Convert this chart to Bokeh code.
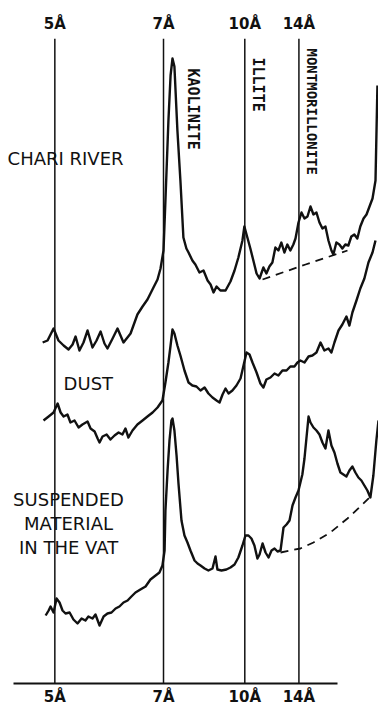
import math
from bokeh.plotting import figure
from bokeh.models import Range1d, LinearAxis, FixedTicker, Span
from bokeh.core.properties import value
from bokeh.embed import file_html
from bokeh.resources import INLINE

# ---- d-spacing reference lines (2-theta, Cu K-alpha) ----
line_pos = [17.72, 12.64, 8.84, 6.31]
line_labels = ["5Å", "7Å", "10Å", "14Å"]

# ---- CHARI RIVER trace (2-theta, intensity a.u.) ----
chari_x = [18.29, 18.06, 17.78, 17.55, 17.31, 17.08, 16.89, 16.75, 16.57, 16.38,
           16.19, 15.96, 15.77, 15.58, 15.40, 15.26, 15.02, 14.79, 14.51, 14.18,
           13.86, 13.62, 13.39, 13.11, 12.92, 12.78, 12.64, 12.55, 12.41, 12.31,
           12.22, 12.13, 11.99, 11.85, 11.71, 11.57, 11.47, 11.29, 11.15, 10.96,
           10.77, 10.58, 10.44, 10.30, 10.16, 9.98, 9.74, 9.51, 9.32, 9.14,
           8.95, 8.86, 8.72, 8.58, 8.44, 8.29, 8.15, 7.97, 7.83, 7.69,
           7.55, 7.41, 7.27, 7.13, 6.99, 6.85, 6.71, 6.57, 6.47, 6.33,
           6.19, 6.05, 5.91, 5.77, 5.63, 5.49, 5.35, 5.21, 5.07, 4.93,
           4.79, 4.70, 4.56, 4.42, 4.28, 4.14, 4.00, 3.86, 3.72, 3.58,
           3.44, 3.29, 3.15, 3.01, 2.87, 2.73, 2.64]
chari_y = [341, 343, 355, 343, 338, 334, 339, 347, 333, 341,
           353, 336, 343, 352, 340, 335, 345, 355, 341, 350,
           369, 377, 384, 396, 404, 415, 433, 483, 563, 608,
           625, 617, 553, 503, 446, 435, 431, 423, 419, 411,
           413, 403, 399, 391, 397, 393, 393, 402, 413, 426,
           443, 457, 446, 435, 423, 410, 405, 416, 410, 417,
           421, 436, 433, 441, 431, 439, 433, 439, 445, 461,
           471, 465, 467, 477, 469, 471, 461, 455, 457, 443,
           433, 429, 441, 439, 435, 439, 438, 447, 449, 445,
           457, 465, 469, 477, 485, 503, 598]
chari_base_x = [8.01, 6.00, 4.04]
chari_base_y = [404, 419, 433]

# ---- DUST trace ----
dust_x = [18.25, 18.01, 17.78, 17.59, 17.45, 17.31, 17.13, 16.99, 16.80, 16.61,
          16.43, 16.19, 16.05, 15.86, 15.72, 15.63, 15.49, 15.30, 15.12, 14.93,
          14.74, 14.56, 14.42, 14.28, 14.09, 13.86, 13.62, 13.39, 13.15, 12.92,
          12.69, 12.55, 12.41, 12.31, 12.22, 12.13, 11.99, 11.85, 11.66, 11.47,
          11.29, 11.10, 10.91, 10.72, 10.54, 10.35, 10.16, 10.02, 9.88, 9.74,
          9.60, 9.42, 9.23, 9.04, 8.90, 8.76, 8.62, 8.48, 8.29, 8.11,
          7.97, 7.83, 7.64, 7.45, 7.27, 7.08, 6.89, 6.71, 6.52, 6.38,
          6.24, 6.05, 5.86, 5.68, 5.49, 5.30, 5.12, 4.93, 4.79, 4.65,
          4.46, 4.28, 4.09, 3.95, 3.81, 3.62, 3.44, 3.25, 3.06, 2.87, 2.73]
dust_y = [263, 267, 271, 280, 271, 267, 269, 261, 263, 256,
          259, 262, 255, 252, 245, 241, 247, 249, 244, 248,
          251, 249, 255, 246, 253, 259, 263, 267, 271, 276,
          283, 301, 321, 338, 354, 350, 338, 328, 313, 301,
          298, 297, 293, 296, 290, 286, 283, 281, 289, 295,
          290, 293, 298, 305, 318, 331, 329, 321, 311, 300,
          296, 304, 306, 310, 308, 313, 313, 317, 317, 321,
          323, 321, 327, 328, 331, 341, 333, 335, 331, 341,
          353, 359, 367, 358, 371, 383, 395, 405, 421, 431, 443]

# ---- SUSPENDED MATERIAL IN THE VAT trace ----
vat_x = [18.15, 18.01, 17.92, 17.78, 17.64, 17.50, 17.36, 17.22, 17.03, 16.85,
         16.66, 16.47, 16.29, 16.15, 15.96, 15.82, 15.63, 15.44, 15.26, 15.07,
         14.88, 14.70, 14.51, 14.32, 14.14, 13.95, 13.72, 13.48, 13.25, 13.01,
         12.83, 12.69, 12.59, 12.55, 12.45, 12.36, 12.27, 12.22, 12.13, 12.03,
         11.94, 11.80, 11.66, 11.52, 11.38, 11.19, 11.05, 10.91, 10.72, 10.54,
         10.35, 10.21, 10.12, 9.93, 9.70, 9.51, 9.32, 9.14, 8.95, 8.81,
         8.67, 8.53, 8.39, 8.25, 8.15, 8.01, 7.87, 7.73, 7.59, 7.45,
         7.31, 7.17, 7.03, 6.89, 6.75, 6.61, 6.47, 6.33, 6.24, 6.15,
         6.05, 5.96, 5.86, 5.77, 5.63, 5.49, 5.35, 5.21, 5.07, 4.93,
         4.79, 4.65, 4.51, 4.37, 4.23, 4.09, 3.95, 3.81, 3.67, 3.53,
         3.39, 3.25, 3.11, 2.97, 2.83, 2.69, 2.59]
vat_y = [68, 73, 77, 71, 85, 81, 73, 70, 71, 64,
         60, 65, 63, 67, 65, 69, 58, 67, 70, 71,
         75, 77, 81, 83, 87, 91, 94, 97, 104, 108,
         111, 118, 133, 173, 213, 243, 263, 265, 253, 228,
         200, 163, 148, 141, 133, 123, 120, 118, 115, 113,
         115, 127, 114, 113, 114, 116, 119, 126, 138, 148,
         148, 145, 138, 125, 129, 140, 131, 126, 133, 135,
         132, 133, 156, 159, 163, 178, 186, 193, 201, 209,
         225, 245, 267, 261, 256, 253, 249, 241, 235, 253,
         238, 231, 220, 211, 209, 207, 213, 217, 211, 206,
         203, 198, 193, 186, 208, 243, 263]
vat_base_x = [7.17, 6.24, 5.63, 4.84, 4.04, 3.44, 3.01]
vat_base_y = [131, 135, 141, 151, 165, 177, 186]

# ---- labels ----
sample_names = ["CHARI RIVER", "DUST"]
sample_x = [19.93, 17.31]
sample_y = [525, 300]
vat_lines = ["SUSPENDED", "MATERIAL", "IN THE VAT"]
vat_lab_x = [17.08, 17.08, 17.08]
vat_lab_y = [184, 160, 136]
mineral_names = ["KAOLINITE", "ILLITE", "MONTMORILLONITE"]
mineral_x = [11.24, 8.20, 5.68]
mineral_y = [615, 626, 635]
mineral_size = ["15px", "15px", "14px"]

INK = "#111111"

p = figure(width=378, height=710,
           x_range=Range1d(20.26, 2.59), y_range=Range1d(0, 645),
           x_axis_type=None, y_axis_type=None,
           output_backend="svg", toolbar_location=None,
           min_border=0, min_border_top=38, min_border_bottom=27)
p.outline_line_color = None
p.xgrid.visible = False
p.ygrid.visible = False
p.background_fill_color = "white"
p.border_fill_color = "white"

ticker = FixedTicker(ticks=line_pos, minor_ticks=[])
overrides = {t: lab for t, lab in zip(line_pos, line_labels)}

top_axis = LinearAxis(ticker=ticker, major_label_overrides=overrides)
top_axis.axis_line_color = None
top_axis.major_tick_line_color = None
top_axis.major_tick_out = 0
top_axis.major_tick_in = 0
top_axis.minor_tick_line_color = None
top_axis.minor_tick_out = 0
top_axis.major_label_text_font = "DejaVu Sans"
top_axis.major_label_text_font_style = "bold"
top_axis.major_label_text_font_size = "15px"
top_axis.major_label_text_color = INK
top_axis.major_label_standoff = 6
p.add_layout(top_axis, "above")

bot_axis = LinearAxis(ticker=ticker, major_label_overrides=overrides,
                      bounds=(4.51, 19.65))
bot_axis.axis_line_color = INK
bot_axis.axis_line_width = 2
bot_axis.major_tick_line_color = None
bot_axis.major_tick_out = 0
bot_axis.major_tick_in = 0
bot_axis.minor_tick_line_color = None
bot_axis.minor_tick_out = 0
bot_axis.major_label_text_font = "DejaVu Sans"
bot_axis.major_label_text_font_style = "bold"
bot_axis.major_label_text_font_size = "15px"
bot_axis.major_label_text_color = INK
bot_axis.major_label_standoff = 4
p.add_layout(bot_axis, "below")

for pos in line_pos:
    p.add_layout(Span(location=pos, dimension="height",
                      line_color=INK, line_width=1.5))

for xs, ys in [(chari_x, chari_y), (dust_x, dust_y), (vat_x, vat_y)]:
    p.line(xs, ys, line_color=INK, line_width=2.4, line_join="round")

for xs, ys in [(chari_base_x, chari_base_y), (vat_base_x, vat_base_y)]:
    p.line(xs, ys, line_color=INK, line_width=1.8, line_dash="8 6")

p.text(x=sample_x, y=sample_y, text=sample_names,
       text_font=value("DejaVu Sans"), text_font_size="18px",
       text_align="left", text_baseline="middle", text_color=INK)
p.text(x=vat_lab_x, y=vat_lab_y, text=vat_lines,
       text_font=value("DejaVu Sans"), text_font_size="18px",
       text_align="center", text_baseline="middle", text_color=INK)
p.text(x=mineral_x, y=mineral_y, text=mineral_names,
       angle=-math.pi / 2, text_font=value("DejaVu Sans Mono"),
       text_font_style="bold", text_font_size=mineral_size,
       text_align="left", text_baseline="middle", text_color=INK)

open("out.html", "w").write(file_html(p, INLINE))
